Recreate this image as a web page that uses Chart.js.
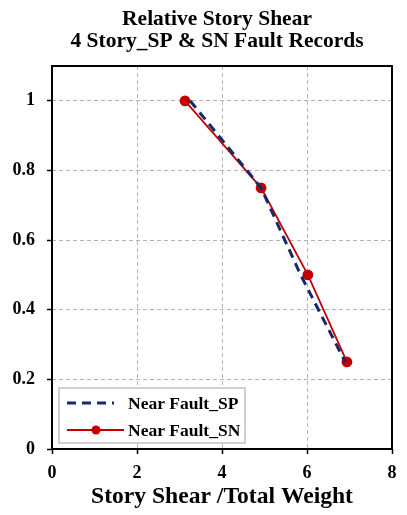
<!DOCTYPE html>
<html><head><meta charset="utf-8">
<script src="https://cdn.jsdelivr.net/npm/chart.js@4"></script>
<style>html,body{margin:0;padding:0;background:#fff}#wrap{width:407px;height:515px}</style>
</head><body><div id="wrap"><canvas id="c" width="407" height="515"></canvas></div>
<script>
const storyLevels = [1.0, 0.75, 0.5, 0.25];
const shearSP = [3.25, 4.92, 5.85, 6.9];
const shearSN = [3.13, 4.92, 6.02, 6.94];
const xTicks = [0, 2, 4, 6, 8];
const yTicks = [0, 0.2, 0.4, 0.6, 0.8, 1];
const seriesNames = ['Near Fault_SP', 'Near Fault_SN'];
const titleLines = ['Relative Story Shear', '4 Story_SP & SN Fault Records'];
const xTitle = 'Story Shear /Total Weight';

const SERIF = '"Liberation Serif", "Times New Roman", serif';
const navy = '#16296a', red = '#c00000';

const boxPlugin = {
  id: 'box',
  afterLayout(chart) {
    if (chart.titleBlock) { chart.titleBlock.left = chart.chartArea.left - 10; }
  },
  afterDraw(chart) {
    const {ctx, chartArea: a} = chart;
    ctx.save();
    ctx.strokeStyle = '#000'; ctx.lineWidth = 2;
    ctx.strokeRect(a.left, a.top, a.right - a.left, a.bottom - a.top);
    // legend
    const lx = 59, ly = 388, lw = 186, lh = 55;
    ctx.fillStyle = '#fff';
    ctx.fillRect(lx, ly, lw, lh);
    ctx.strokeStyle = '#d0d0d0'; ctx.lineWidth = 2;
    ctx.strokeRect(lx, ly, lw, lh);
    ctx.font = 'bold 17.5px ' + SERIF;
    ctx.textBaseline = 'middle'; ctx.fillStyle = '#000';
    const ds = chart.data.datasets;
    // SP
    let y = 403;
    ctx.strokeStyle = ds[0].borderColor; ctx.lineWidth = ds[0].borderWidth;
    ctx.setLineDash(ds[0].borderDash);
    ctx.beginPath(); ctx.moveTo(67, y); ctx.lineTo(114, y); ctx.stroke();
    ctx.setLineDash([]);
    ctx.fillText(ds[0].label, 128, y + 1);
    // SN
    y = 430;
    ctx.strokeStyle = ds[1].borderColor; ctx.lineWidth = ds[1].borderWidth;
    ctx.beginPath(); ctx.moveTo(67, y); ctx.lineTo(124, y); ctx.stroke();
    ctx.fillStyle = ds[1].pointBackgroundColor;
    ctx.beginPath(); ctx.arc(96, y, 4.5, 0, Math.PI * 2); ctx.fill();
    ctx.fillStyle = '#000';
    ctx.fillText(ds[1].label, 128, y + 1);
    ctx.restore();
  }
};

const gridOpts = {color: '#b4b4b4', tickColor: '#000', tickLength: 5, tickBorderDash: [], lineWidth: 1, tickWidth: 1.5};

new Chart(document.getElementById('c'), {
  type: 'line',
  data: {
    datasets: [
      {label: seriesNames[0], data: shearSP.map((x, i) => ({x, y: storyLevels[i]})),
       borderColor: navy, backgroundColor: navy, borderWidth: 3, borderDash: [9, 6],
       pointRadius: 0, tension: 0},
      {label: seriesNames[1], data: shearSN.map((x, i) => ({x, y: storyLevels[i]})),
       borderColor: red, backgroundColor: red, pointBackgroundColor: red, pointBorderColor: red,
       borderWidth: 1.8, pointRadius: 4.5, tension: 0}
    ]
  },
  options: {
    responsive: false, animation: false, devicePixelRatio: 1,
    layout: {padding: {left: 0, right: 15, top: 0, bottom: 0}},
    plugins: {
      legend: {display: false}, tooltip: {enabled: false},
      title: {display: true, text: titleLines, color: '#000', fullSize: false,
        font: {family: SERIF, size: 21.5, weight: 'bold', lineHeight: 1.0},
        padding: {top: 9, bottom: 14}}
    },
    scales: {
      x: {type: 'linear', min: 0, max: 8,
        afterBuildTicks: s => { s.ticks = xTicks.map(v => ({value: v})); },
        afterFit: s => { s.height = 66; },
        ticks: {color: '#000', font: {family: SERIF, size: 18, weight: 'bold'}, padding: 9},
        grid: gridOpts,
        border: {display: false, dash: [4, 3]},
        title: {display: true, text: xTitle, color: '#000', font: {family: SERIF, size: 23.6, weight: 'bold'}, padding: {top: 2}}
      },
      y: {type: 'linear', min: 0, max: 1.1,
        afterBuildTicks: s => { s.ticks = yTicks.map(v => ({value: v})); },
        afterFit: s => { s.width = 52; },
        ticks: {color: '#000', font: {family: SERIF, size: 18, weight: 'bold'}, padding: 12,
          callback: v => String(v)},
        grid: gridOpts,
        border: {display: false, dash: [4, 3]}
      }
    }
  },
  plugins: [boxPlugin]
});
</script></body></html>
